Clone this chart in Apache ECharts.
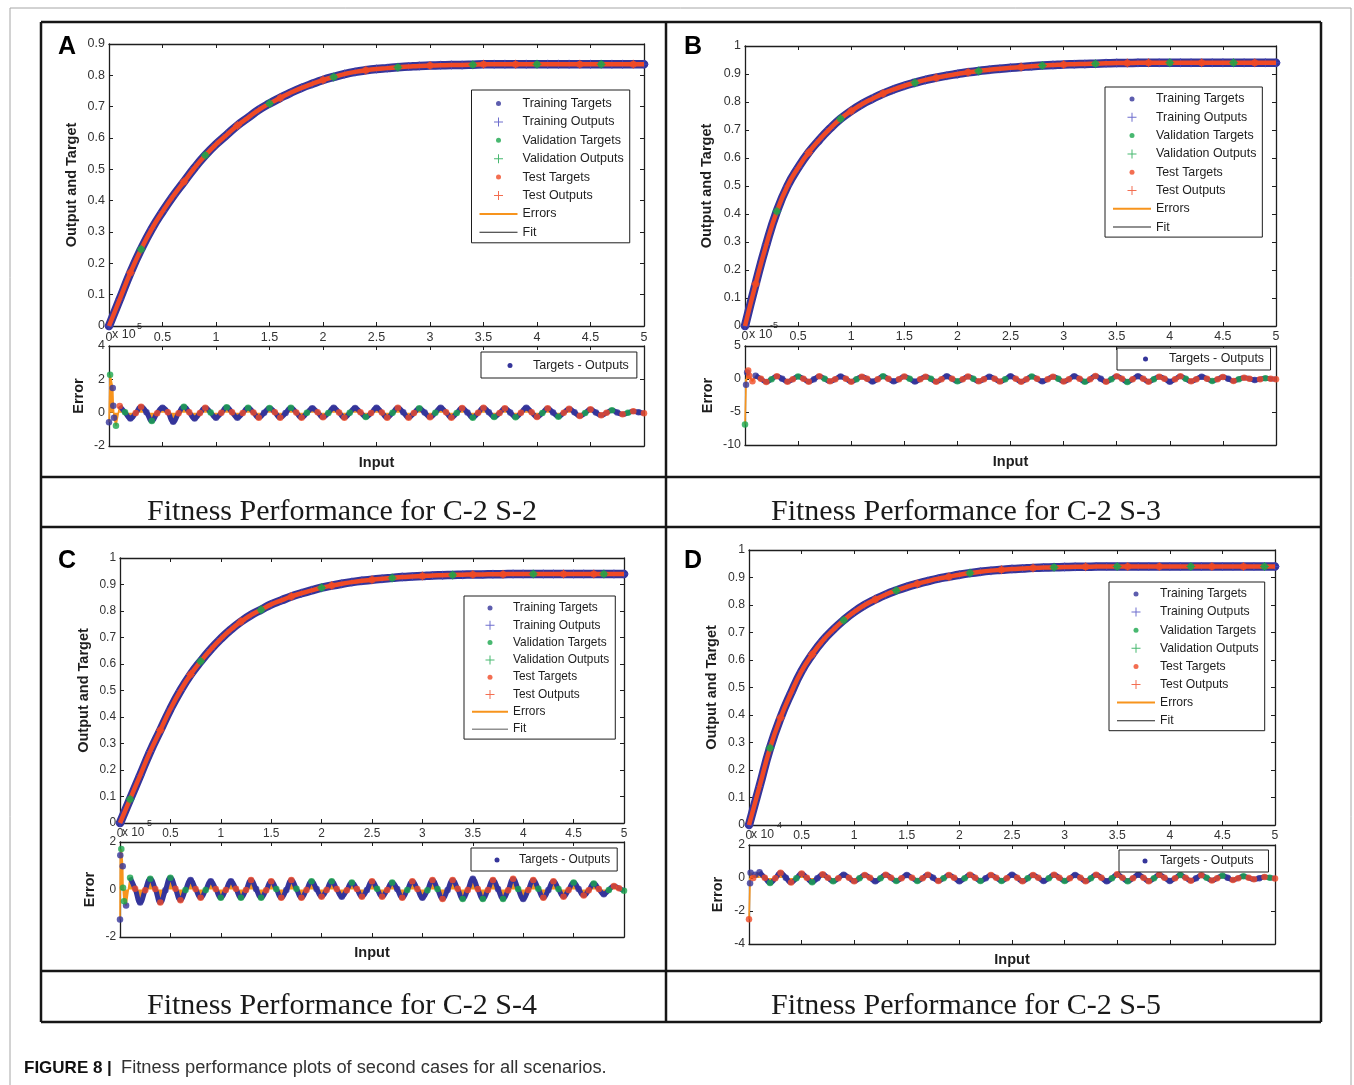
<!DOCTYPE html>
<html>
<head>
<meta charset="utf-8">
<title>Fitness performance plots</title>
<script src="https://cdn.jsdelivr.net/npm/echarts@6/dist/echarts.min.js"></script>
<style>
  html, body { margin: 0; padding: 0; background: #fff; }
  #chart { width: 1354px; height: 1085px; }
</style>
</head>
<body>
<div id="chart"></div>
<script>
// ---------------- data ----------------
// Input values at which the fitted output/target curves are sampled
const inputX = [0,0.1,0.2,0.3,0.4,0.5,0.6,0.7,0.8,0.9,1,1.1,1.2,1.3,1.4,1.5,1.6,1.7,1.8,1.9,2,2.1,2.2,2.3,2.4,2.5,2.6,2.7,2.8,2.9,3,3.1,3.2,3.3,3.4,3.5,3.6,3.7,3.8,3.9,4,4.1,4.2,4.3,4.4,4.5,4.6,4.7,4.8,4.9,5];

// Output / target curves, one per scenario (S-2 .. S-5)
const fitS2 = [0,0.085,0.17,0.245,0.31,0.365,0.415,0.46,0.505,0.545,0.58,0.61,0.64,0.665,0.69,0.71,0.728,0.745,0.76,0.773,0.785,0.795,0.804,0.811,0.816,0.82,0.823,0.826,0.828,0.83,0.831,0.832,0.833,0.833,0.834,0.835,0.835,0.835,0.835,0.835,0.835,0.835,0.835,0.835,0.835,0.835,0.835,0.835,0.835,0.835,0.835];
const fitS3 = [0,0.15,0.29,0.41,0.5,0.565,0.62,0.665,0.705,0.74,0.768,0.792,0.812,0.83,0.845,0.858,0.869,0.879,0.887,0.894,0.9,0.906,0.911,0.915,0.919,0.922,0.925,0.928,0.93,0.932,0.934,0.935,0.936,0.937,0.938,0.939,0.939,0.94,0.94,0.94,0.94,0.94,0.94,0.94,0.94,0.94,0.94,0.94,0.94,0.94,0.94];
const fitS4 = [0,0.09,0.18,0.27,0.35,0.43,0.5,0.56,0.61,0.655,0.695,0.73,0.76,0.785,0.805,0.825,0.84,0.855,0.867,0.878,0.888,0.896,0.903,0.909,0.914,0.918,0.922,0.925,0.928,0.93,0.932,0.934,0.935,0.936,0.937,0.938,0.938,0.939,0.939,0.94,0.94,0.94,0.94,0.94,0.94,0.94,0.94,0.94,0.94,0.94,0.94];
const fitS5 = [0,0.14,0.28,0.39,0.48,0.56,0.62,0.67,0.71,0.745,0.775,0.8,0.82,0.838,0.853,0.866,0.877,0.887,0.896,0.903,0.91,0.916,0.921,0.925,0.928,0.931,0.933,0.935,0.936,0.937,0.938,0.939,0.939,0.94,0.94,0.94,0.94,0.94,0.94,0.94,0.94,0.94,0.94,0.94,0.94,0.94,0.94,0.94,0.94,0.94,0.94];

// Data split of each curve sample: T = training, V = validation, R = test
const splitMainS2 = "TTRVTTTRTV" + "TTRTTVRTTT" + "RVTTRTTVTT" + "RTTTVRTTRT" + "VTTTRTVTTRT";
const splitMainS3 = "TRTVTTRTTV" + "RTTRTTVTRT" + "TRVTTTRTVT" + "RTTVTTRTRT" + "VTTRTTVTRTT";
const splitMainS4 = "TVTTRTTRVT" + "TTRTVTTRTT" + "VRTTTRTVTT" + "RTTVTRTTRT" + "TVTTRTTRVTT";
const splitMainS5 = "TTVRTTRTTV" + "TTRTVTRTTR" + "TVTTRTTRTV" + "TTRTTVRTTR" + "TTVTRTTRTVT";

// Input values of the error samples
const errInputX = [0.1,0.15,0.2,0.25,0.3,0.35,0.4,0.45,0.5,0.55,0.6,0.65,0.7,0.75,0.8,0.85,0.9,0.95,1,1.05,1.1,1.15,1.2,1.25,1.3,1.35,1.4,1.45,1.5,1.55,1.6,1.65,1.7,1.75,1.8,1.85,1.9,1.95,2,2.05,2.1,2.15,2.2,2.25,2.3,2.35,2.4,2.45,2.5,2.55,2.6,2.65,2.7,2.75,2.8,2.85,2.9,2.95,3,3.05,3.1,3.15,3.2,3.25,3.3,3.35,3.4,3.45,3.5,3.55,3.6,3.65,3.7,3.75,3.8,3.85,3.9,3.95,4,4.05,4.1,4.15,4.2,4.25,4.3,4.35,4.4,4.45,4.5,4.55,4.6,4.65,4.7,4.75,4.8,4.85,4.9,4.95,5];

// Targets - Outputs (x 1e-5 / 1e-4)
const errS2 = [
  0.4,0.02,-0.35,-0.02, 0.35,0.03,-0.5,-0.03, 0.3,0.02,-0.55,-0.04, 0.35,0.02,-0.35,-0.02,
  0.3,0.01,-0.3,-0.01, 0.32,0.02,-0.3,-0.02, 0.3,0.01,-0.3,-0.01, 0.28,0.02,-0.3,-0.02,
  0.3,0.01,-0.3,-0.01, 0.26,0.02,-0.28,-0.02, 0.3,0.01,-0.3,-0.01, 0.28,0.02,-0.26,-0.02,
  0.3,0.01,-0.3,-0.01, 0.3,0.02,-0.3,-0.02, 0.26,0.01,-0.28,-0.01, 0.3,0.02,-0.3,-0.02,
  0.28,0.01,-0.3,-0.01, 0.3,0.02,-0.26,-0.02, 0.26,0.01,-0.28,-0.01, 0.3,0.02,-0.26,-0.02,
  0.26,0.01,-0.24,-0.01, 0.24,0.02,-0.2,-0.02, 0.2,0.01,-0.16,-0.01, 0.14,0.01,-0.1,-0.01,
  0.08,0.02,-0.03];
const errS3 = [
  0.5,0.03,-0.45,-0.02, 0.4,0.02,-0.4,-0.03, 0.38,0.02,-0.4,-0.02, 0.4,0.03,-0.35,-0.02,
  0.38,0.02,-0.4,-0.02, 0.35,0.02,-0.38,-0.03, 0.4,0.02,-0.35,-0.02, 0.38,0.03,-0.38,-0.02,
  0.35,0.02,-0.4,-0.02, 0.4,0.02,-0.35,-0.03, 0.38,0.02,-0.35,-0.02, 0.35,0.03,-0.38,-0.02,
  0.4,0.02,-0.4,-0.02, 0.38,0.02,-0.35,-0.03, 0.35,0.02,-0.38,-0.02, 0.4,0.03,-0.4,-0.02,
  0.45,0.02,-0.4,-0.02, 0.4,0.02,-0.45,-0.03, 0.4,0.02,-0.4,-0.02, 0.35,0.03,-0.4,-0.02,
  0.4,0.02,-0.35,-0.02, 0.35,0.02,-0.3,-0.03, 0.3,0.02,-0.3,-0.02, 0.2,0.03,-0.15,-0.02,
  0.1,0.03,-0.05];
const errS4 = [
  0.5,0.03,-0.55,-0.03, 0.45,0.02,-0.55,-0.03, 0.5,0.03,-0.45,-0.02, 0.4,0.02,-0.35,-0.02,
  0.35,0.02,-0.35,-0.02, 0.35,0.03,-0.35,-0.02, 0.4,0.02,-0.35,-0.03, 0.35,0.02,-0.35,-0.02,
  0.4,0.03,-0.35,-0.02, 0.35,0.02,-0.3,-0.02, 0.35,0.02,-0.3,-0.03, 0.3,0.02,-0.3,-0.02,
  0.35,0.03,-0.3,-0.02, 0.3,0.02,-0.35,-0.02, 0.35,0.02,-0.35,-0.03, 0.4,0.02,-0.4,-0.02,
  0.4,0.03,-0.4,-0.02, 0.45,0.02,-0.4,-0.02, 0.4,0.02,-0.4,-0.03, 0.45,0.02,-0.4,-0.02,
  0.4,0.03,-0.35,-0.02, 0.35,0.02,-0.3,-0.02, 0.3,0.02,-0.25,-0.03, 0.25,0.02,-0.2,-0.02,
  0.15,0.05,-0.05];
const errS5 = [
  0.35,0.02,-0.3,-0.02, 0.32,0.02,-0.28,-0.02, 0.28,0.01,-0.25,-0.01, 0.22,0.01,-0.2,-0.01,
  0.2,0.01,-0.2,-0.01, 0.18,0.01,-0.2,-0.01, 0.2,0.01,-0.18,-0.01, 0.18,0.01,-0.18,-0.01,
  0.2,0.01,-0.18,-0.01, 0.18,0.01,-0.2,-0.01, 0.2,0.01,-0.18,-0.01, 0.18,0.01,-0.18,-0.01,
  0.2,0.01,-0.2,-0.01, 0.18,0.01,-0.18,-0.01, 0.2,0.01,-0.18,-0.01, 0.18,0.01,-0.2,-0.01,
  0.2,0.01,-0.2,-0.01, 0.22,0.01,-0.2,-0.01, 0.2,0.01,-0.2,-0.01, 0.2,0.01,-0.18,-0.01,
  0.18,0.01,-0.16,-0.01, 0.16,0.01,-0.15,-0.01, 0.14,0.01,-0.12,-0.01, 0.1,0.01,-0.08,-0.01,
  0.06,0.01,-0.03];

const splitErrS2 = "RVTRRTVRTR"+"TRVRTRRVTR"+"VRTRVRRTVR"+"RTVRRVTRRV"+"TRRVTRVRTR"+"RVRTRRVTRV"+"TRRVRTVRRT"+"VRRTVRTRRV"+"RTVRRTRVRT"+"RRVTRVRTR";
const splitErrS3 = "TRRVRTRRVR"+"RTRVRRTRRV"+"RRTRVRTRRV"+"TRRVRRTRVR"+"RVRRTRRVTR"+"RRVRTRRVRR"+"TRVRRTRVRR"+"VRTRRVRRTR"+"RVRRTRVRRT"+"RVRRTRVRR";
const splitErrS4 = "VRTRVRRTVR"+"RVTRRVTRVR"+"TRVRRTVRRV"+"RTRVRRVTRR"+"VRTRVRRTRV"+"RRVTRVRRTV"+"RVRTRRVRTR"+"VRRTVRRVTR"+"RVRTRVRRVT"+"RRVRTVRRV";
const splitErrS5 = "TRVRRTRVRR"+"VTRRVRTRRV"+"RRTVRRVRTR"+"VRRTRVRRTV"+"RRVTRRVRTR"+"RVRRTVRRVR"+"TRRVRRTVRR"+"VRTRRVRRTR"+"VRRTRVRRVT"+"RRVRRTRVR";

// Start-up transient of each error trace
const spikeXS2 = [0, 0.01, 0.035, 0.04, 0.047, 0.065];
const spikeYS2 = [-0.58, 2.28, 1.48, 0.42, -0.3, -0.78];
const spikeSetS2 = "TVTTTV";
const spikeXS3 = [0, 0.01, 0.02, 0.03, 0.04, 0.07];
const spikeYS3 = [-6.9, -0.86, 1.0, 1.3, 0.5, -0.35];
const spikeSetS3 = "VTTRRR";
const spikeXS4 = [0, 0.003, 0.013, 0.027, 0.03, 0.04, 0.06];
const spikeYS4 = [-1.26, 1.44, 1.71, 0.98, 0.07, -0.49, -0.67];
const spikeSetS4 = "TTVTVVT";
const spikeXS5 = [0, 0.01, 0.015, 0.04, 0.06];
const spikeYS5 = [-2.5, -0.32, 0.32, 0.0, 0.2];
const spikeSetS5 = "RTTRT";

// Axis ticks
const xTicks = { min: 0, max: 5, step: 0.5 };
const outTicksS2 = { min: 0, max: 0.9, step: 0.1 };
const outTicks = { min: 0, max: 1, step: 0.1 };
const errTicksS2 = { min: -2, max: 4, step: 2 };
const errTicksS3 = { min: -10, max: 5, step: 5 };
const errTicksS4 = { min: -2, max: 2, step: 2 };
const errTicksS5 = { min: -4, max: 2, step: 2 };

const captions = ['Fitness Performance for C-2 S-2', 'Fitness Performance for C-2 S-3',
                  'Fitness Performance for C-2 S-4', 'Fitness Performance for C-2 S-5'];
const legendNames = ['Training Targets', 'Training Outputs', 'Validation Targets',
                     'Validation Outputs', 'Test Targets', 'Test Outputs', 'Errors', 'Fit'];

// ---------------- style ----------------
const SANS = '"Liberation Sans", Arial, Helvetica, sans-serif';
const SERIF = '"Liberation Serif", "Times New Roman", serif';
const INK = '#1e1e1e';
const LABEL = '#333333';
const BLUE = '#35359a';
const BLUE_PLUS = '#4a4ac0';
const GREEN = '#1aa64c';
const RED = '#f04a26';
const ORANGE = '#f7941d';
const DOT = 'path://M0,0M9,9M7,4.5A2.5,2.5,0,1,1,2,4.5A2.5,2.5,0,1,1,7,4.5Z';
const PLUS = 'path://M4,0H5V4H9V5H5V9H4V5H0V4H4Z';
const BAR2 = 'path://M0,0H38V2H0Z';
const BAR1 = 'path://M0,0H38V1H0Z';

// Layout of the four panels
const panels = [
  { fit: fitS2, split: splitMainS2, err: errS2, errSplit: splitErrS2,
    sx: spikeXS2, sy: spikeYS2, ss: spikeSetS2, yT: outTicksS2, eT: errTicksS2,
    main: { left: 109, top: 44, width: 535, height: 282 },
    errBox: { left: 109, top: 346, width: 535, height: 100 },
    fs: 12.5, yGap: 30, eGap: 23, xGap: 9,
    leg: { left: 471.5, top: 90, padding: [7, 6, 4, 8], itemWidth: 38, gap: 5.4 },
    eLeg: { left: 481, top: 352, padding: [7, 8, 6, 24.5], itemWidth: 36 },
    letter: ['A', 67, 47], expo: [112, 335, 134, 327, '-5'] },
  { fit: fitS3, split: splitMainS3, err: errS3, errSplit: splitErrS3,
    sx: spikeXS3, sy: spikeYS3, ss: spikeSetS3, yT: outTicks, eT: errTicksS3,
    main: { left: 745, top: 46, width: 531, height: 280 },
    errBox: { left: 745, top: 346, width: 531, height: 99 },
    fs: 12.4, yGap: 31, eGap: 30, xGap: 9,
    leg: { left: 1105, top: 87, padding: [6, 6, 4, 8], itemWidth: 38, gap: 6.3 },
    eLeg: { left: 1117, top: 348, padding: [5, 6.5, 5, 24], itemWidth: 37 },
    letter: ['B', 693, 47], expo: [749, 335, 770, 326, '-5'] },
  { fit: fitS4, split: splitMainS4, err: errS4, errSplit: splitErrS4,
    sx: spikeXS4, sy: spikeYS4, ss: spikeSetS4, yT: outTicks, eT: errTicksS4,
    main: { left: 120, top: 558, width: 504, height: 265 },
    errBox: { left: 120, top: 842, width: 504, height: 95 },
    fs: 11.9, yGap: 29, eGap: 23, xGap: 8,
    leg: { left: 464, top: 596, padding: [6, 6, 4, 8], itemWidth: 36, gap: 5.3 },
    eLeg: { left: 471, top: 848, padding: [6, 7, 5, 21.5], itemWidth: 34 },
    letter: ['C', 67, 561], expo: [122, 833, 144, 824, '-5'] },
  { fit: fitS5, split: splitMainS5, err: errS5, errSplit: splitErrS5,
    sx: spikeXS5, sy: spikeYS5, ss: spikeSetS5, yT: outTicks, eT: errTicksS5,
    main: { left: 749, top: 550, width: 526, height: 275 },
    errBox: { left: 749, top: 845, width: 526, height: 99 },
    fs: 12.2, yGap: 30, eGap: 24, xGap: 8,
    leg: { left: 1109, top: 582, padding: [6, 6, 4, 8], itemWidth: 38, gap: 6.1 },
    eLeg: { left: 1119, top: 850, padding: [5, 15, 5, 21.5], itemWidth: 20 },
    letter: ['D', 693, 561], expo: [751, 835, 774, 826, '-4'] }
];

// ---------------- helpers ----------------
function pairs(xs, ys) { return xs.map((x, i) => [x, ys[i]]); }
function subset(xs, ys, split, key) {
  const out = [];
  xs.forEach((x, i) => { if ((split[i] || 'T') === key) out.push([x, ys[i]]); });
  return out;
}
const fmt = v => String(Math.round(v * 100) / 100);

const option = {
  animation: false,
  backgroundColor: '#ffffff',
  textStyle: { fontFamily: SANS },
  grid: [], xAxis: [], yAxis: [], series: [], legend: [],
  graphic: { elements: [] }
};

function addGrid(box, yT, opts) {
  const g = option.grid.length;
  option.grid.push({ left: box.left, top: box.top, width: box.width, height: box.height,
                     show: false, containLabel: false, outerBoundsMode: 'none' });
  const line = { show: true, onZero: false, lineStyle: { color: INK, width: 1.3 } };
  const tick = { show: true, inside: true, length: 4, lineStyle: { color: INK, width: 1 } };
  const nameStyle = { fontFamily: SANS, fontWeight: 'bold', fontSize: 14.5, color: INK };
  option.xAxis.push({
    gridIndex: g, type: 'value', position: 'bottom',
    min: xTicks.min, max: xTicks.max, interval: xTicks.step,
    axisLine: line, axisTick: tick, splitLine: { show: false },
    axisLabel: { show: opts.xLabels, margin: 5, fontSize: opts.fs, color: LABEL,
                 fontFamily: SANS, formatter: fmt, showMinLabel: true, showMaxLabel: true },
    name: opts.xName || '', nameLocation: 'middle', nameGap: opts.xGap || 0, nameTextStyle: nameStyle
  });
  option.xAxis.push({
    gridIndex: g, type: 'value', position: 'top',
    min: xTicks.min, max: xTicks.max, interval: xTicks.step,
    axisLine: line, axisTick: tick, splitLine: { show: false }, axisLabel: { show: false }
  });
  option.yAxis.push({
    gridIndex: g, type: 'value', position: 'left',
    min: yT.min, max: yT.max, interval: yT.step,
    axisLine: line, axisTick: tick, splitLine: { show: false },
    axisLabel: { margin: 4, fontSize: opts.fs, color: LABEL, fontFamily: SANS, formatter: fmt,
                 showMinLabel: true, showMaxLabel: true },
    name: opts.yName, nameLocation: 'middle', nameGap: opts.yGap, nameTextStyle: nameStyle
  });
  option.yAxis.push({
    gridIndex: g, type: 'value', position: 'right',
    min: yT.min, max: yT.max, interval: yT.step,
    axisLine: line, axisTick: tick, splitLine: { show: false }, axisLabel: { show: false }
  });
  return 2 * g;
}

panels.forEach((p) => {
  // ----- output & target plot -----
  const ax = addGrid(p.main, p.yT, { xLabels: true, fs: p.fs, yName: 'Output and Target', yGap: p.yGap });
  const on = { xAxisIndex: ax, yAxisIndex: ax };
  const curve = pairs(inputX, p.fit);
  option.series.push(
    Object.assign({ name: 'Fit', type: 'line', data: curve, smooth: true, symbol: 'none',
      lineStyle: { color: INK, width: 1 }, z: 2 }, on),
    Object.assign({ name: 'Training band', type: 'line', data: curve, smooth: true, symbol: 'none',
      lineStyle: { color: BLUE, width: 8.5, cap: 'round' }, silent: true, z: 3 }, on),
    Object.assign({ name: 'Training Targets', type: 'scatter', symbol: 'circle', symbolSize: 7,
      data: subset(inputX, p.fit, p.split, 'T'), itemStyle: { color: BLUE }, z: 4 }, on),
    Object.assign({ name: 'Training Outputs', type: 'scatter', symbol: PLUS, symbolSize: 9,
      data: subset(inputX, p.fit, p.split, 'T'), itemStyle: { color: BLUE_PLUS }, z: 4 }, on),
    Object.assign({ name: 'Test band', type: 'line', data: curve, smooth: true, symbol: 'none',
      lineStyle: { color: RED, width: 4.5 }, silent: true, z: 5 }, on),
    Object.assign({ name: 'Validation Targets', type: 'scatter', symbol: 'circle', symbolSize: 7,
      data: subset(inputX, p.fit, p.split, 'V'), itemStyle: { color: GREEN }, z: 6 }, on),
    Object.assign({ name: 'Validation Outputs', type: 'scatter', symbol: PLUS, symbolSize: 9,
      data: subset(inputX, p.fit, p.split, 'V'), itemStyle: { color: GREEN }, z: 6 }, on),
    Object.assign({ name: 'Test Targets', type: 'scatter', symbol: 'circle', symbolSize: 7,
      data: subset(inputX, p.fit, p.split, 'R'), itemStyle: { color: RED }, z: 7 }, on),
    Object.assign({ name: 'Test Outputs', type: 'scatter', symbol: PLUS, symbolSize: 9,
      data: subset(inputX, p.fit, p.split, 'R'), itemStyle: { color: RED }, z: 7 }, on)
  );

  // ----- error plot -----
  const ex = addGrid(p.errBox, p.eT, { xLabels: false, fs: p.fs, yName: 'Error', yGap: p.eGap,
                                       xName: 'Input', xGap: p.xGap });
  const eon = { xAxisIndex: ex, yAxisIndex: ex };
  const wave = pairs(errInputX, p.err);
  const start = pairs(p.sx, p.sy).concat([wave[0]]);
  option.series.push(
    Object.assign({ name: 'Errors', type: 'line', data: start, symbol: 'none',
      lineStyle: { color: ORANGE, width: 1.6 }, areaStyle: { color: ORANGE, opacity: 1 }, z: 2 }, eon),
    Object.assign({ name: 'Errors', type: 'line', data: wave, smooth: true, symbol: 'none',
      lineStyle: { color: ORANGE, width: 1 }, areaStyle: { color: ORANGE, opacity: 1 }, z: 2 }, eon),
    Object.assign({ name: 'Targets - Outputs', type: 'line', data: wave, smooth: true, symbol: 'none',
      lineStyle: { color: BLUE, width: 5 }, z: 3 }, eon)
  );
  [['T', BLUE, 4], ['V', GREEN, 5], ['R', RED, 5]].forEach(([key, color, z]) => {
    option.series.push(Object.assign({
      name: 'Targets - Outputs', type: 'scatter', symbol: 'circle', symbolSize: 6.5,
      data: subset(errInputX, p.err, p.errSplit, key).concat(subset(p.sx, p.sy, p.ss, key)),
      itemStyle: { color }, z
    }, eon));
  });

  // ----- legends -----
  const legIcons = {
    'Training Targets': { icon: DOT, itemStyle: { color: BLUE, borderWidth: 0 } },
    'Training Outputs': { icon: PLUS, itemStyle: { color: BLUE_PLUS, borderWidth: 0 } },
    'Validation Targets': { icon: DOT, itemStyle: { color: GREEN, borderWidth: 0 } },
    'Validation Outputs': { icon: PLUS, itemStyle: { color: GREEN, borderWidth: 0 } },
    'Test Targets': { icon: DOT, itemStyle: { color: RED, borderWidth: 0 } },
    'Test Outputs': { icon: PLUS, itemStyle: { color: RED, borderWidth: 0 } },
    'Errors': { icon: BAR2, itemStyle: { color: ORANGE, borderWidth: 0 } },
    'Fit': { icon: BAR1, itemStyle: { color: '#222', borderWidth: 0 } }
  };
  const boxStyle = { orient: 'vertical', selectedMode: false, borderColor: INK, borderWidth: 1,
                     borderRadius: 0, backgroundColor: '#ffffff', itemHeight: 9, z: 10,
                     textStyle: { fontFamily: SANS, fontSize: p.fs, color: INK } };
  option.legend.push(Object.assign({}, boxStyle, {
    left: p.leg.left, top: p.leg.top, padding: p.leg.padding, itemWidth: p.leg.itemWidth, itemGap: p.leg.gap,
    data: legendNames.map(n => Object.assign({ name: n }, legIcons[n]))
  }));
  option.legend.push(Object.assign({}, boxStyle, {
    left: p.eLeg.left, top: p.eLeg.top, padding: p.eLeg.padding, itemWidth: p.eLeg.itemWidth,
    data: [{ name: 'Targets - Outputs', icon: DOT, itemStyle: { color: BLUE, borderWidth: 0 } }]
  }));

  // ----- panel letter and exponent label -----
  option.graphic.elements.push(
    { type: 'text', x: p.letter[1], y: p.letter[2],
      style: { text: p.letter[0], font: 'bold 25px ' + SANS, fill: '#000', align: 'center', verticalAlign: 'middle' } },
    { type: 'text', x: p.expo[0], y: p.expo[1],
      style: { text: 'x 10', font: p.fs + 'px ' + SANS, fill: LABEL, align: 'left', verticalAlign: 'middle' } },
    { type: 'text', x: p.expo[2], y: p.expo[3],
      style: { text: p.expo[4], font: '9px ' + SANS, fill: LABEL, align: 'left', verticalAlign: 'middle' } }
  );
});

// ----- figure frame, table rules and captions -----
const rule = (x1, y1, x2, y2) => ({ type: 'line', shape: { x1, y1, x2, y2 },
  style: { stroke: '#161616', lineWidth: 2.5 }, z: 20 });
option.graphic.elements.push(
  { type: 'polyline', shape: { points: [[10, 1090], [10, 8], [1351, 8], [1351, 1090]] },
    style: { stroke: '#a6a6a6', lineWidth: 1, fill: 'none' } },
  rule(41, 22, 1321, 22), rule(41, 477, 1321, 477), rule(41, 527, 1321, 527),
  rule(41, 971, 1321, 971), rule(41, 1022, 1321, 1022),
  rule(41, 22, 41, 1022), rule(666, 22, 666, 1022), rule(1321, 22, 1321, 1022)
);
[[147, 512], [771, 512], [147, 1006], [771, 1006]].forEach(([x, y], i) => {
  option.graphic.elements.push({ type: 'text', x, y,
    style: { text: captions[i], font: '30px ' + SERIF, fill: '#1a1a1a', align: 'left', verticalAlign: 'middle' } });
});
option.graphic.elements.push(
  { type: 'text', x: 24, y: 1068,
    style: { text: 'FIGURE 8 |', font: 'bold 17px ' + SANS, fill: '#111', align: 'left', verticalAlign: 'middle' } },
  { type: 'text', x: 121, y: 1068,
    style: { text: 'Fitness performance plots of second cases for all scenarios.', font: '18.3px ' + SANS,
             fill: '#333', align: 'left', verticalAlign: 'middle' } }
);

const chart = echarts.init(document.getElementById('chart'), null, { renderer: 'canvas' });
chart.setOption(option);
</script>
</body>
</html>
